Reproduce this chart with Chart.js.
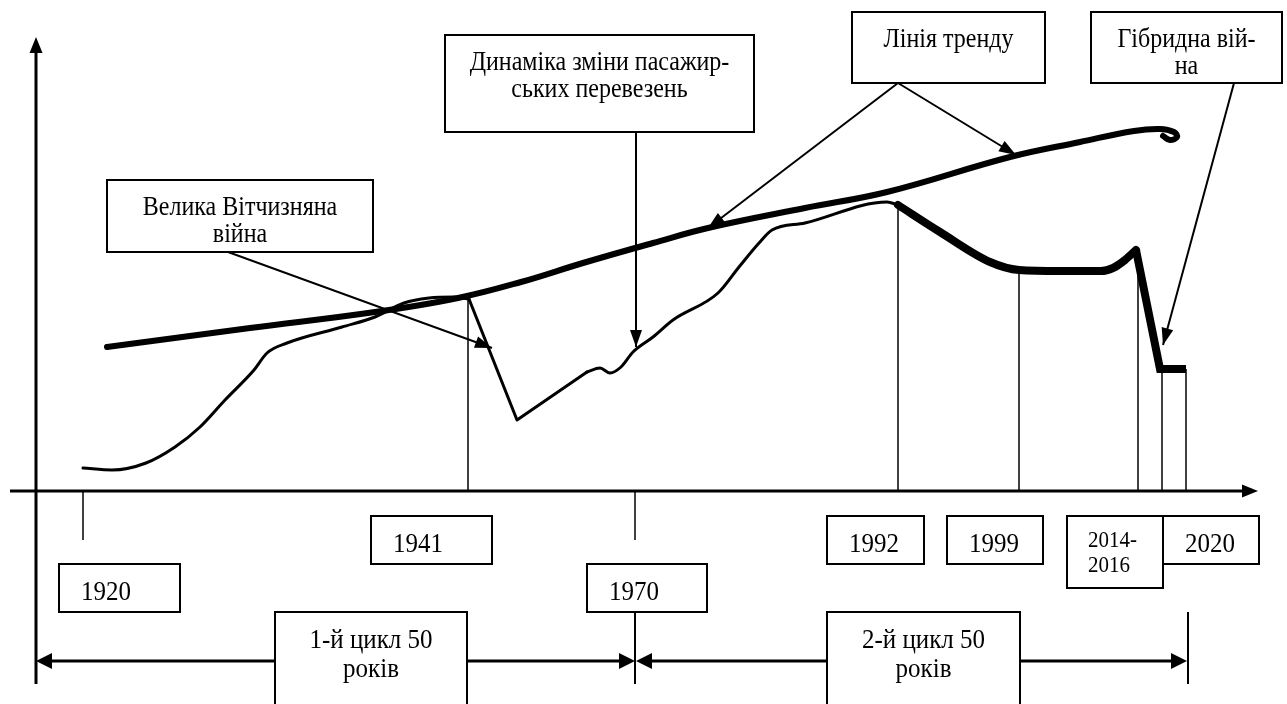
<!DOCTYPE html>
<html>
<head>
<meta charset="utf-8">
<script src="https://cdn.jsdelivr.net/npm/chart.js@4.4.1/dist/chart.umd.min.js"></script>
<style>
  html, body { margin: 0; padding: 0; background: #ffffff; }
  canvas { display: block; }
</style>
</head>
<body>
<canvas id="c" width="1287" height="704"></canvas>
<script>
// ---------------- DATA (schematic units: x = position along time axis, y = level above axis) ----------------
const yearLabels = ['1920', '1941', '1970', '1992', '1999', '2014-2016', '2020'];

// Trend line ("Лінія тренду")
const trendX = [71, 214, 339, 422, 485, 547, 617, 672, 769, 851, 974, 1044, 1098, 1124, 1138, 1141, 1134, 1127];
const trendY = [144, 163, 179, 193, 209, 228, 248, 263, 283, 299, 334, 349, 360, 362, 359, 354, 351, 355];

// Passenger transport dynamics: growth up to 1941
const riseX = [47, 76, 110, 139, 164, 189, 218, 231, 251, 306, 339, 368, 393, 418, 433];
const riseY = [23, 21, 28, 44, 64, 91, 121, 138, 148, 164, 174, 188, 193, 194, 192];
// War collapse
const warX = [433, 481, 551];
const warY = [192, 71, 119];
// Recovery up to 1992
const recX = [551, 564, 574, 585, 597, 617, 637, 682, 703, 723, 736, 769, 851, 862];
const recY = [119, 123, 118, 124, 139, 154, 171, 198, 224, 248, 261, 268, 289, 286];
// Decline after 1992
const declineX = [862, 904, 954, 983, 1024, 1065, 1077, 1089, 1100];
const declineY = [286, 259, 229, 221, 220, 220, 223, 231, 241];
// Hybrid war drop
const dropWarX = [1100, 1124, 1150];
const dropWarY = [241, 122, 122];

// Vertical markers from the curve to the axis (1941, 1992, 1999, 2014, 2016, 2020)
const markerX = [432, 862, 983, 1102, 1126, 1150];
const markerTop = [192, 286, 221, 238, 122, 122];
// Short ticks under the axis (1920, 1970)
const tickX = [47, 599];
// Cycle boundaries (1920 axis origin, 1970, 2020)
const cycleX = [0, 599, 1152];
const cycleLabels = ['1-й цикл 50\nроків', '2-й цикл 50\nроків'];

// Callout texts
const calloutTexts = ['Велика Вітчизняна\nвійна', 'Динаміка зміни пасажир-\nських перевезень', 'Лінія тренду', 'Гібридна вій-\nна'];

// ---------------- LAYOUT (annotation boxes & arrows in scale units) ----------------
const calloutBoxes = [
  { x0: 71,   x1: 337,  y0: 311, y1: 239 },
  { x0: 409,  x1: 718,  y0: 456, y1: 359 },
  { x0: 816,  x1: 1009, y0: 479, y1: 408 },
  { x0: 1055, x1: 1246, y0: 479, y1: 408 }
];
const calloutArrows = [
  { from: [192, 239], to: [456, 143] },
  { from: [600, 359], to: [600, 144] },
  { from: [862, 408], to: [672, 263] },
  { from: [862, 408], to: [980, 336] },
  { from: [1198, 408], to: [1127, 146] }
];
const yearBoxes = [
  { x0: 23,   x1: 144,  y0: -73, y1: -121 },
  { x0: 335,  x1: 456,  y0: -25, y1: -73 },
  { x0: 551,  x1: 671,  y0: -73, y1: -121 },
  { x0: 791,  x1: 888,  y0: -25, y1: -73 },
  { x0: 911,  x1: 1007, y0: -25, y1: -73 },
  { x0: 1031, x1: 1127, y0: -25, y1: -97, small: true },
  { x0: 1127, x1: 1223, y0: -25, y1: -73 }
];
const cycleBoxes = [
  { x0: 239, x1: 431, y0: -121, y1: -230 },
  { x0: 791, x1: 984, y0: -121, y1: -230 }
];

const FONT = '"Liberation Serif", "Times New Roman", serif';
const TEXT_STRETCH = 1.12;

function pts(xs, ys) { return xs.map((x, i) => ({ x: x, y: ys[i] })); }

function head(ctx, x1, y1, x2, y2, len, half) {
  const a = Math.atan2(y2 - y1, x2 - x1);
  const bx = x2 - len * Math.cos(a), by = y2 - len * Math.sin(a);
  ctx.beginPath();
  ctx.moveTo(x2, y2);
  ctx.lineTo(bx - half * Math.sin(a), by + half * Math.cos(a));
  ctx.lineTo(bx + half * Math.sin(a), by - half * Math.cos(a));
  ctx.closePath();
  ctx.fill();
}
function line(ctx, x1, y1, x2, y2, w) {
  ctx.lineWidth = w;
  ctx.beginPath();
  ctx.moveTo(x1, y1);
  ctx.lineTo(x2, y2);
  ctx.stroke();
}
function text(ctx, t, x, y) {
  ctx.save();
  ctx.translate(x, y);
  ctx.scale(1, TEXT_STRETCH);
  ctx.fillText(t, 0, 0);
  ctx.restore();
}
function box(ctx, X, Y, b) {
  const l = X(b.x0), r = X(b.x1), t = Y(b.y0), bt = Y(b.y1);
  ctx.fillStyle = '#fff';
  ctx.fillRect(l, t, r - l, bt - t);
  ctx.lineWidth = 2;
  ctx.strokeStyle = '#000';
  ctx.strokeRect(l, t, r - l, bt - t);
  ctx.fillStyle = '#000';
  return { l, r, t, bt };
}

const diagram = {
  id: 'diagram',
  beforeDraw(chart) {
    const ctx = chart.ctx;
    ctx.save();
    ctx.fillStyle = '#fff';
    ctx.fillRect(0, 0, chart.width, chart.height);
    ctx.restore();
  },
  beforeDatasetsDraw(chart) {
    const ctx = chart.ctx, xs = chart.scales.x, ys = chart.scales.y;
    const X = v => xs.getPixelForValue(v), Y = v => ys.getPixelForValue(v);
    ctx.save();
    ctx.strokeStyle = '#000';
    ctx.fillStyle = '#000';
    ctx.lineCap = 'butt';
    markerX.forEach((x, i) => line(ctx, X(x), Y(markerTop[i]), X(x), Y(0), 1.5));
    tickX.forEach(x => line(ctx, X(x), Y(0), X(x), Y(-49), 1.5));
    cycleX.forEach(x => line(ctx, X(x), Y(-121), X(x), Y(-193), 2));
    line(ctx, X(0), Y(440), X(0), Y(-193), 3);
    head(ctx, X(0), Y(0), X(0), Y(454), 16, 6.5);
    line(ctx, X(-26), Y(0), X(1208), Y(0), 3);
    head(ctx, X(0), Y(0), X(1222), Y(0), 16, 6.5);
    ctx.restore();
  },
  afterDatasetsDraw(chart) {
    const ctx = chart.ctx, xs = chart.scales.x, ys = chart.scales.y;
    const X = v => xs.getPixelForValue(v), Y = v => ys.getPixelForValue(v);
    ctx.save();
    ctx.strokeStyle = '#000';
    ctx.fillStyle = '#000';
    const ay = Y(-170);
    for (let i = 0; i < cycleX.length - 1; i++) {
      const a = X(cycleX[i]) + (i ? 1 : 0), b = X(cycleX[i + 1]) - (i ? 1 : 0);
      line(ctx, a + 10, ay, b - 10, ay, 3);
      head(ctx, b, ay, a, ay, 16, 8);
      head(ctx, a, ay, b, ay, 16, 8);
    }
    calloutArrows.forEach(ar => {
      const x1 = X(ar.from[0]), y1 = Y(ar.from[1]), x2 = X(ar.to[0]), y2 = Y(ar.to[1]);
      line(ctx, x1, y1, x2, y2, 2);
      head(ctx, x1, y1, x2, y2, 17, 6);
    });
    ctx.textBaseline = 'alphabetic';
    calloutBoxes.forEach((b, i) => {
      const r = box(ctx, X, Y, b);
      ctx.font = '24px ' + FONT;
      ctx.textAlign = 'center';
      calloutTexts[i].split('\n').forEach((t, k) => text(ctx, t, (r.l + r.r) / 2, r.t + 35 + k * 27));
    });
    yearBoxes.forEach((b, i) => {
      const r = box(ctx, X, Y, b);
      ctx.textAlign = 'left';
      if (b.small) {
        ctx.font = '21px ' + FONT;
        const parts = yearLabels[i].split('-');
        text(ctx, parts[0] + '-', r.l + 21, r.t + 31);
        text(ctx, parts[1], r.l + 21, r.t + 56);
      } else {
        ctx.font = '25px ' + FONT;
        text(ctx, yearLabels[i], r.l + 22, r.t + 36);
      }
    });
    cycleBoxes.forEach((b, i) => {
      const r = box(ctx, X, Y, b);
      ctx.font = '25px ' + FONT;
      ctx.textAlign = 'center';
      cycleLabels[i].split('\n').forEach((t, k) => text(ctx, t, (r.l + r.r) / 2, r.t + 36 + k * 29));
    });
    ctx.restore();
  }
};

const base = { borderColor: '#000', pointRadius: 0, fill: false, borderJoinStyle: 'round', borderCapStyle: 'round' };

new Chart(document.getElementById('c'), {
  type: 'line',
  data: {
    datasets: [
      Object.assign({}, base, { label: 'Лінія тренду', data: pts(trendX, trendY), borderWidth: 6, tension: 0.4 }),
      Object.assign({}, base, { label: 'Динаміка (до 1941)', data: pts(riseX, riseY), borderWidth: 3, cubicInterpolationMode: 'monotone' }),
      Object.assign({}, base, { label: 'Динаміка (війна)', data: pts(warX, warY), borderWidth: 3, tension: 0 }),
      Object.assign({}, base, { label: 'Динаміка (1945-1992)', data: pts(recX, recY), borderWidth: 3, cubicInterpolationMode: 'monotone' }),
      Object.assign({}, base, { label: 'Динаміка (1992-2014)', data: pts(declineX, declineY), borderWidth: 8, cubicInterpolationMode: 'monotone' }),
      Object.assign({}, base, { label: 'Динаміка (2014-2020)', data: pts(dropWarX, dropWarY), borderWidth: 8, tension: 0, borderCapStyle: 'butt', borderJoinStyle: 'miter' })
    ]
  },
  options: {
    responsive: false,
    animation: false,
    devicePixelRatio: 1,
    layout: { padding: 0 },
    plugins: { legend: { display: false }, tooltip: { enabled: false } },
    scales: {
      x: { type: 'linear', display: false, min: -36, max: 1251 },
      y: { type: 'linear', display: false, min: -213, max: 491 }
    }
  },
  plugins: [diagram]
});
</script>
</body>
</html>
